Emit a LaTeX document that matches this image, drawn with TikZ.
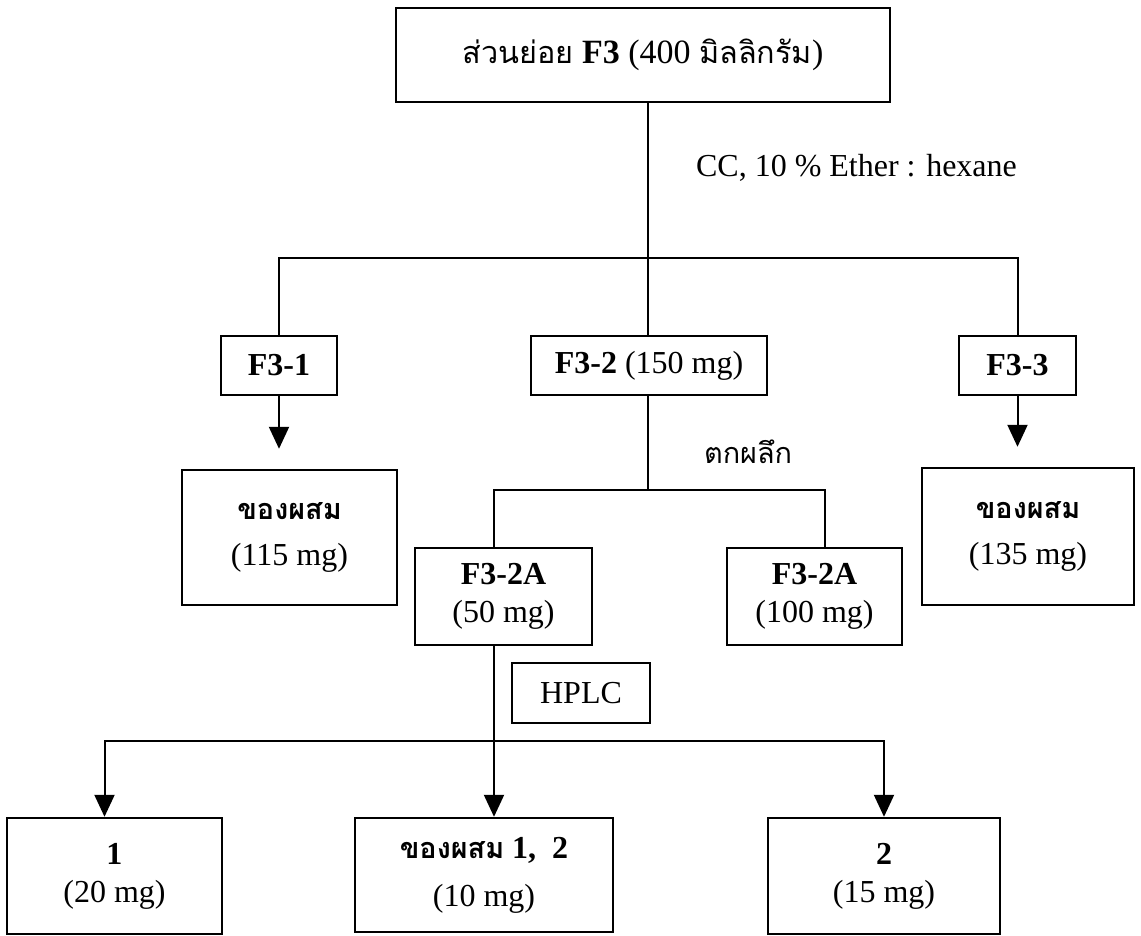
\documentclass[tikz,border=0pt]{standalone}
\usepackage{fontspec}
\setmainfont{Liberation Serif}
\newfontfamily\thaifont[Script=Thai,Scale=0.9]{Loma}
\usetikzlibrary{arrows.meta}

\begin{document}
\begin{tikzpicture}[x=0.5pt, y=-0.5pt, every node/.style={font=\fontsize{16}{19}\selectfont}]
    % Styles
    \tikzstyle{frac} = [rectangle, draw=black, line width=1.2pt, text centered, align=center, inner sep=0pt]
    \tikzstyle{link} = [line width=1pt]
    \tikzstyle{arrow} = [line width=1pt,->,>={Triangle[length=11pt,width=10pt]}]
    \tikzstyle{note} = [anchor=west]

    \useasboundingbox (0,0) rectangle (1141,936);

    % Nodes
    \node (f3)   [frac, minimum width=247pt, minimum height=47pt, font=\fontsize{17}{20}\selectfont] at (643,55) {{\thaifont ส่วนย่อย} \textbf{F3} (400 {\thaifont มิลลิกรัม})};
    \node (f31)  [frac, minimum width=58pt, minimum height=29.5pt] at (279,365.5) {\textbf{F3-1}};
    \node (f32)  [frac, minimum width=118pt, minimum height=29.5pt] at (649,365.5) {\textbf{F3-2} (150 mg)};
    \node (f33)  [frac, minimum width=58.5pt, minimum height=29.5pt] at (1017.5,365.5) {\textbf{F3-3}};
    \node (mixa) [frac, minimum width=107.5pt, minimum height=67.5pt] at (289.5,537.5) {{\thaifont\bfseries ของผสม}\\[4pt](115 mg)};
    \node (mixb) [frac, minimum width=106pt, minimum height=68.5pt] at (1028,536.5) {{\thaifont\bfseries ของผสม}\\[4pt](135 mg)};
    \node (f32a) [frac, minimum width=88.5pt, minimum height=48.5pt] at (503.5,596.5) {\textbf{F3-2A}\\(50 mg)};
    \node (f32b) [frac, minimum width=87.5pt, minimum height=48.5pt] at (814.5,596.5) {\textbf{F3-2A}\\(100 mg)};
    \node (hplc) [frac, minimum width=69pt, minimum height=30pt] at (581,693) {HPLC};
    \node (c1)   [frac, minimum width=107.5pt, minimum height=58pt] at (114.5,876) {\textbf{1}\\(20 mg)};
    \node (cmix) [frac, minimum width=129pt, minimum height=57pt] at (484,875) {{\thaifont\bfseries ของผสม} \textbf{1,\ \ 2}\\[5pt](10 mg)};
    \node (c2)   [frac, minimum width=116pt, minimum height=58pt] at (884,876) {\textbf{2}\\(15 mg)};

    % Labels
    \node (cc)  [note] at (689,168) {CC, 10 \% Ether : hexane};
    \node (tok) [note] at (697,452) {{\thaifont ตกผลึก}};

    % Split points
    \coordinate (sp1) at (648,258);
    \coordinate (sp2) at (648,490);
    \coordinate (sp3) at (494,741);

    % Lines
    \draw [link] (f3.south -| sp1) -- (f32.north -| sp1);
    \draw [link] (f31.north) |- (sp1) -| (f33.north);
    \draw [link] (f32.south -| sp2) -- (sp2);
    \draw [link] (f32a.north -| sp3) |- (sp2) -| ([xshift=5pt]f32b.north);
    \draw [link] (f32a.south -| sp3) -- (sp3);

    % Arrows
    \draw [arrow, shorten >=10pt] (f31.south) -- (f31.south |- mixa.north);
    \draw [arrow, shorten >=10pt] (f33.south) -- (f33.south |- mixb.north);
    \draw [arrow] (sp3) -- (sp3 |- cmix.north);
    \draw [arrow] (sp3) -| ([xshift=-5pt]c1.north);
    \draw [arrow] (sp3) -| (c2.north);
\end{tikzpicture}
\end{document}
